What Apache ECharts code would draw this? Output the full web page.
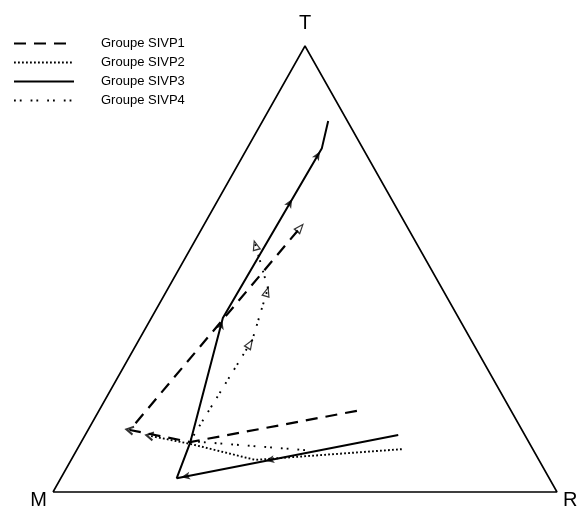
<!DOCTYPE html>
<html>
<head>
<meta charset="utf-8">
<script src="https://cdn.jsdelivr.net/npm/echarts@6/dist/echarts.min.js"></script>
<style>
  html, body { margin: 0; padding: 0; background: #fff; }
  #chart { width: 581px; height: 512px; }
</style>
</head>
<body>
<div id="chart"></div>
<script>
// Ternary composition (%) of each group along its trajectory: T, R, M shares.
const sivp1T = [18.2, 11.2, 13.9, 59.2];
const sivp1R = [51.2, 21.6, 8.3, 19.4];
const sivp1M = [30.6, 67.2, 77.8, 21.4];

const sivp2T = [9.6, 7.2, 10.8, 12.6];
const sivp2R = [64.4, 36.5, 21.8, 12.9];
const sivp2M = [26.0, 56.3, 67.4, 74.5];

const sivp3T = [12.8, 3.1, 11.0, 39.0, 77.1, 83.2];
const sivp3R = [62.1, 23.0, 21.7, 14.2, 14.8, 13.0];
const sivp3M = [25.1, 73.9, 67.3, 46.8, 8.1, 3.8];

const sivp4T = [9.4, 11.4, 34.1, 45.7, 55.6];
const sivp4R = [45.3, 21.5, 22.5, 19.8, 12.3];
const sivp4M = [45.3, 67.1, 43.4, 34.5, 32.1];

const groupNames = ['Groupe SIVP1', 'Groupe SIVP2', 'Groupe SIVP3', 'Groupe SIVP4'];
const vertexNames = ['M', 'R', 'T'];

// Ternary (T, R, M) -> plane coordinates of the triangle
function toXY(t, r, m) {
  const s = t + r + m;
  return [(r + t / 2) / s * 100, t / s * 100];
}
function path(T, R, M) {
  return T.map((t, i) => toXY(t, R[i], M[i]));
}

const groups = [
  { name: groupNames[0], pts: path(sivp1T, sivp1R, sivp1M), line: { type: [12, 8], width: 2.2 } },
  { name: groupNames[1], pts: path(sivp2T, sivp2R, sivp2M), line: { type: [1.8, 2.2], width: 1.9 } },
  { name: groupNames[2], pts: path(sivp3T, sivp3R, sivp3M), line: { type: 'solid', width: 2 } },
  { name: groupNames[3], pts: path(sivp4T, sivp4R, sivp4M), line: { type: [1.8, 4, 1.8, 9], width: 1.9 } }
];

// Arrowheads: group index, segment index, position along segment, head style
const arrowMarks = [
  { g: 0, seg: 1, t: 1.0, kind: 'chevron' },
  { g: 0, seg: 2, t: 1.0, kind: 'open' },
  { g: 1, seg: 2, t: 1.0, kind: 'chevron' },
  { g: 2, seg: 0, t: 0.6, kind: 'filled' },
  { g: 2, seg: 0, t: 0.98, kind: 'filled' },
  { g: 2, seg: 2, t: 0.98, kind: 'filled' },
  { g: 2, seg: 3, t: 0.7, kind: 'filled' },
  { g: 2, seg: 3, t: 0.98, kind: 'filled' },
  { g: 3, seg: 1, t: 0.96, kind: 'open' },
  { g: 3, seg: 2, t: 0.93, kind: 'open' },
  { g: 3, seg: 3, t: 0.97, kind: 'open' }
];

const FONT = 'Liberation Sans, Arial, Helvetica, sans-serif';

// Triangle frame with its vertex letters
const frame = [toXY(0, 0, 100), toXY(0, 100, 0), toXY(100, 0, 0), toXY(0, 0, 100)];
const labelPos = ['left', 'right', 'top', 'left'];
const frameData = frame.map((p, i) => ({
  value: p,
  label: {
    show: i < 3,
    position: labelPos[i],
    formatter: vertexNames[i] || '',
    distance: i === 2 ? 12 : 6,
    offset: i === 2 ? [0, 0] : [0, 8],
    fontSize: 20,
    fontFamily: FONT,
    color: '#000'
  }
}));

const chart = echarts.init(document.getElementById('chart'), null, { renderer: 'canvas' });

const baseOption = {
  animation: false,
  backgroundColor: '#fff',
  grid: { left: 53, right: 24, top: 46, bottom: 20 },
  xAxis: { type: 'value', min: 0, max: 100, show: false },
  yAxis: { type: 'value', min: 0, max: 100, show: false },
  legend: {
    orient: 'vertical',
    left: 8,
    top: 32,
    itemWidth: 60,
    itemHeight: 12,
    itemGap: 6,
    data: groupNames,
    itemStyle: { opacity: 0 },
    textStyle: { fontSize: 13, fontFamily: FONT, color: '#000', padding: [0, 0, 0, 22] }
  },
  series: [
    {
      type: 'line',
      name: 'frame',
      data: frameData,
      symbol: 'circle',
      symbolSize: 0.1,
      showSymbol: true,
      clip: false,
      silent: true,
      lineStyle: { color: '#000', width: 1.6 },
      itemStyle: { color: '#000' }
    }
  ].concat(groups.map(g => ({
    type: 'line',
    name: g.name,
    data: g.pts,
    symbol: 'none',
    clip: false,
    lineStyle: { color: '#000', width: g.line.width, type: g.line.type },
    itemStyle: { color: '#000' }
  })))
};

chart.setOption(baseOption);

// Arrowheads are oriented from the on-screen direction of their segment
const arrowSymbols = {
  filled: 'arrow',
  open: 'path://M-5,10 L0,0 L5,10 Z',
  chevron: 'path://M-5,8 L0,0 L5,8'
};
const arrowData = { filled: [], open: [], chevron: [] };
arrowMarks.forEach(a => {
  const pts = groups[a.g].pts;
  const p0 = pts[a.seg], p1 = pts[a.seg + 1];
  const pos = [p0[0] + (p1[0] - p0[0]) * a.t, p0[1] + (p1[1] - p0[1]) * a.t];
  const s0 = chart.convertToPixel({ gridIndex: 0 }, p0);
  const s1 = chart.convertToPixel({ gridIndex: 0 }, p1);
  const ang = Math.atan2(-(s1[1] - s0[1]), s1[0] - s0[0]) * 180 / Math.PI;
  arrowData[a.kind].push({ value: pos, symbolRotate: ang - 90 });
});

chart.setOption({
  series: baseOption.series.concat([
    {
      type: 'scatter', name: 'heads-filled', data: arrowData.filled,
      symbol: arrowSymbols.filled, symbolSize: [6, 9], clip: false, silent: true,
      itemStyle: { color: '#000' }
    },
    {
      type: 'scatter', name: 'heads-open', data: arrowData.open,
      symbol: arrowSymbols.open, symbolSize: [7, 9], clip: false, silent: true,
      itemStyle: { color: '#fff', borderColor: '#000', borderWidth: 1.3 }
    },
    {
      type: 'scatter', name: 'heads-chevron', data: arrowData.chevron,
      symbol: arrowSymbols.chevron, symbolSize: [8, 7], clip: false, silent: true,
      itemStyle: { color: 'rgba(0,0,0,0)', borderColor: '#000', borderWidth: 2 }
    }
  ])
});
</script>
</body>
</html>
